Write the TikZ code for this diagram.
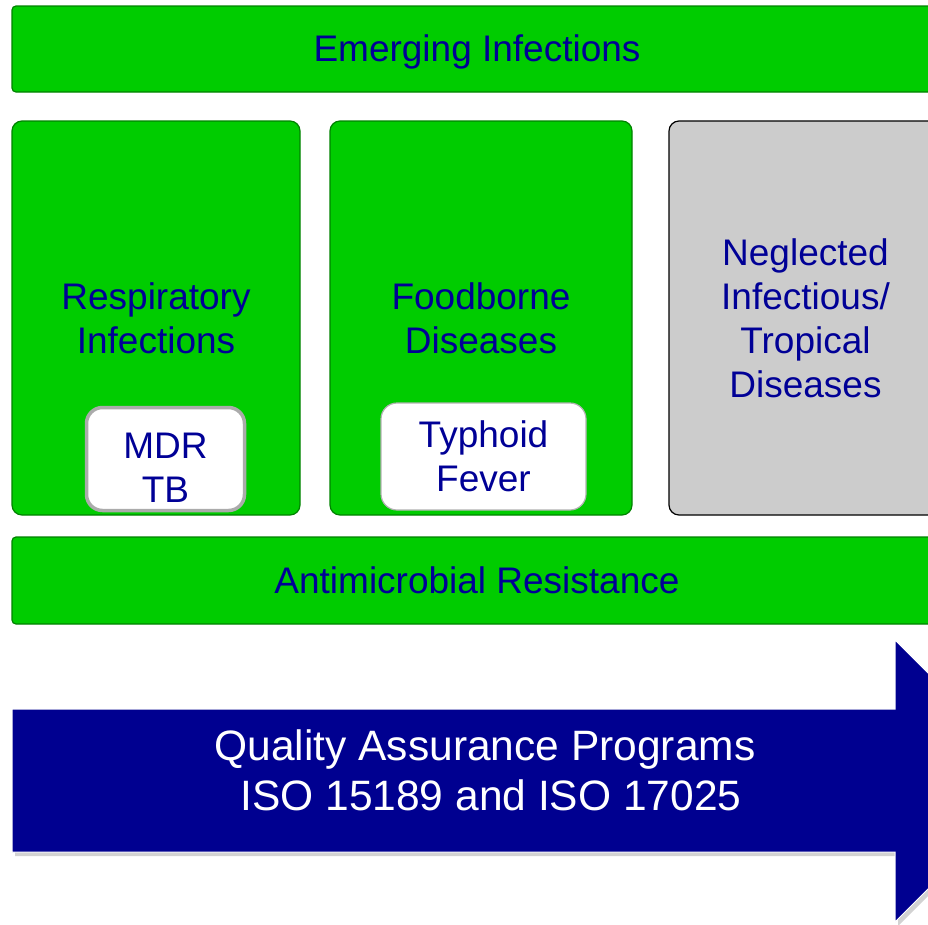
\documentclass[tikz,border=0pt]{standalone}
\usepackage{fontspec}
\setmainfont{Liberation Sans}
\usepackage{xcolor}
\usetikzlibrary{shadows}

\definecolor{boxgreen}{RGB}{0,204,0}
\definecolor{edgegreen}{RGB}{0,130,0}
\definecolor{textblue}{RGB}{0,0,150}
\definecolor{arrowblue}{RGB}{0,0,144}
\definecolor{boxgray}{RGB}{204,204,204}

\tikzset{
    greenbar/.style={draw=edgegreen, line width=1.2pt, fill=boxgreen, rounded corners=4pt,
        text=textblue, align=center, inner sep=0pt},
    greenbox/.style={greenbar, rounded corners=10pt},
    graybox/.style={greenbox, draw=black, fill=boxgray},
    subbox/.style={draw=black!35, line width=1.2pt, fill=white, rounded corners=16pt,
        text=textblue, align=center, inner sep=0pt}
}

\begin{document}
\begin{tikzpicture}[x=1pt, y=-1pt, font=\fontsize{37}{44}\selectfont]
    \useasboundingbox (0,0) rectangle (928,924);
    \clip (0,0) rectangle (928,924);

    \node[greenbar, minimum width=930pt, minimum height=86pt, text height=30pt, text depth=5pt] (emerging) at (477,49) {Emerging Infections};

    \node[greenbox, minimum width=288pt, minimum height=394pt] (resp) at (156,318) {Respiratory\\Infections};
    \node[greenbox, minimum width=302pt, minimum height=394pt] (food) at (481,318) {Foodborne\\Diseases};
    \node[graybox, minimum width=273pt, minimum height=394pt] (tropical) at (805.5,318) {Neglected\\Infectious/\\Tropical\\Diseases};

    \node[subbox, line width=3.5pt, draw=black!33, minimum width=158pt, minimum height=103pt] (mdrtb) at (165.5,459) {};
    \node[text=textblue, align=center] (mdrlabel) at ([yshift=-9pt]mdrtb.center) {MDR\\TB};
    \node[subbox, draw=black!30, minimum width=205pt, minimum height=107pt] (typhoid) at (483.5,456.5) {Typhoid\\Fever};

    \node[greenbar, minimum width=930pt, minimum height=87pt] (amr) at (477,580.5) {Antimicrobial Resistance};

    % quality arrow
    \draw[draw=white, line width=1pt, fill=arrowblue,
        drop shadow={shadow xshift=3pt, shadow yshift=-4pt, fill=black!35}]
        (12,709) -- (895,709) -- (895,640) -- (1036,781) -- (895,922) -- (895,852) -- (12,852) -- cycle;
    \node[text=white, align=center, font=\fontsize{42.5}{50}\selectfont] (qa) at (485,770)
        {Quality Assurance Programs\\\ ISO 15189 and ISO 17025};
\end{tikzpicture}
\end{document}
